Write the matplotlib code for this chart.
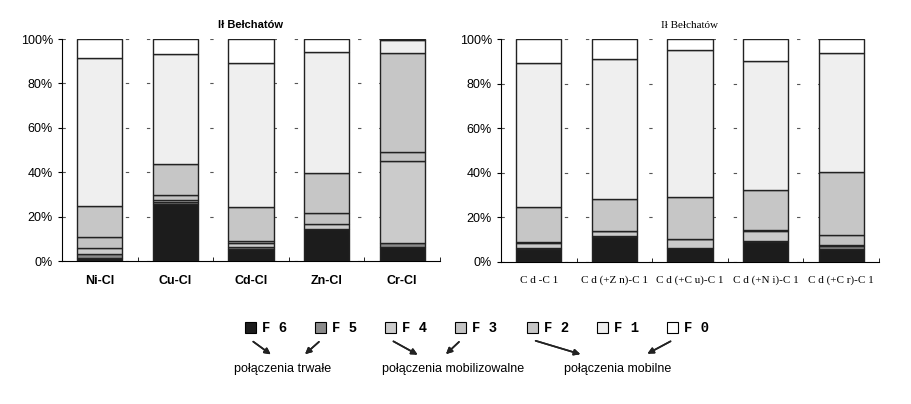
import matplotlib.pyplot as plt
import numpy as np

# frakcje od dołu słupka: F6 .. F0 (udział %)
fractions = ["F6", "F5", "F4", "F3", "F2", "F1", "F0"]
colors = ["#1c1c1c", "#8a8a8a", "#cbcbcb", "#c3c3c3", "#c6c6c6", "#efefef", "#ffffff"]

left_labels = ["Ni-Cl", "Cu-Cl", "Cd-Cl", "Zn-Cl", "Cr-Cl"]
left_values = [
    [1.5, 25.7, 5.4, 14.3, 6.4],   # F6
    [1.5, 1.0, 0.9, 0.3, 1.9],     # F5
    [2.7, 0.8, 1.7, 2.1, 36.9],    # F4
    [5.0, 2.2, 1.0, 4.8, 4.0],     # F3
    [14.1, 13.8, 15.5, 18.0, 44.6],  # F2
    [66.8, 49.6, 64.8, 54.5, 5.7],   # F1
    [8.4, 6.9, 10.7, 6.0, 0.5],      # F0
]

right_labels = ["C d -C 1", "C d (+Z n)-C 1", "C d (+C u)-C 1", "C d (+N i)-C 1", "C d (+C r)-C 1"]
right_values = [
    [5.7, 11.1, 6.1, 8.8, 5.7],
    [0.6, 0.6, 0.2, 0.8, 1.5],
    [2.4, 2.2, 3.9, 4.5, 0.4],
    [0.1, 0.1, 0.1, 0.1, 4.5],
    [15.7, 14.3, 18.7, 18.1, 28.2],
    [64.7, 62.7, 66.2, 57.7, 53.3],
    [10.8, 9.0, 4.8, 10.0, 6.4],
]

legend_groups = [("połączenia trwałe", [0, 1]),
                 ("połączenia mobilizowalne", [2, 3]),
                 ("połączenia mobilne", [4, 6])]

W, H = 912, 404
fig = plt.figure(figsize=(W / 100, H / 100), dpi=100)


def px(x, y):
    return x / W, 1 - y / H


def draw_panel(rect, labels, values, title, tick_font):
    ax = fig.add_axes(rect)
    x = np.arange(len(labels))
    bottom = np.zeros(len(labels))
    for vals, c in zip(values, colors):
        ax.bar(x, vals, 0.6, bottom=bottom, color=c, edgecolor="#222222", linewidth=1.0, zorder=3)
        bottom += np.array(vals)
    ax.set_xlim(-0.5, len(labels) - 0.5)
    ax.set_ylim(0, 100)
    ax.set_yticks(np.arange(0, 101, 20))
    ax.set_yticklabels([f"{v}%" for v in range(0, 101, 20)], fontsize=9, family="Liberation Sans")
    ax.set_xticks(x)
    ax.set_xticklabels(labels, **tick_font)
    ax.set_xticks(np.arange(-0.5, len(labels)), minor=True)
    ax.tick_params(axis="x", which="major", length=0, pad=10)
    ax.tick_params(axis="x", which="minor", length=3, direction="in")
    ax.tick_params(axis="y", length=3)
    ax.yaxis.grid(True, linestyle=(0, (3, 16)), color="#555555", linewidth=0.8, zorder=0)
    for s in ["top", "right"]:
        ax.spines[s].set_visible(False)
    ax.set_title(title, fontsize=8, pad=8, **title_font(tick_font))
    return ax


def title_font(tick_font):
    return {"family": tick_font["family"], "fontweight": tick_font.get("fontweight", "normal")}


draw_panel([62 / W, 1 - 261 / H, 378 / W, 222 / H], left_labels, left_values, "Ił Bełchatów",
           {"family": "Liberation Sans", "fontweight": "bold", "fontsize": 9})
draw_panel([501 / W, 1 - 262 / H, 378 / W, 223 / H], right_labels, right_values, "Ił Bełchatów",
           {"family": "Liberation Serif", "fontsize": 8})

# legenda z opisem grup
sq_x = [250, 320, 390, 460, 532, 602, 672]
for i, (name, c) in enumerate(zip(fractions, colors)):
    x0, y0 = px(sq_x[i] - 5, 333)
    fig.patches.append(plt.Rectangle((x0, y0), 11 / W, 11 / H, transform=fig.transFigure,
                                     facecolor=c, edgecolor="black", linewidth=0.8))
    fig.text(*px(sq_x[i] + 12, 328), name[0] + " " + name[1], fontsize=10, fontweight="bold",
             family="Liberation Mono", va="center")

arrow_targets = [(273, 356), (303, 356), (420, 356), (444, 356), (583, 355), None, (645, 355)]
group_x = [283, 453, 618]
for (label, _), gx in zip(legend_groups, group_x):
    fig.text(*px(gx, 369), label, fontsize=9, family="Liberation Sans", ha="center", va="center")
for i, tgt in enumerate(arrow_targets):
    if tgt is None:
        continue
    fig.add_artist(plt.annotate("", xy=px(*tgt), xytext=px(sq_x[i] + 1, 340), xycoords="figure fraction",
                                arrowprops=dict(arrowstyle="-|>", color="#222222", lw=1.2, mutation_scale=9)))

fig.savefig("out.png", dpi=100)
